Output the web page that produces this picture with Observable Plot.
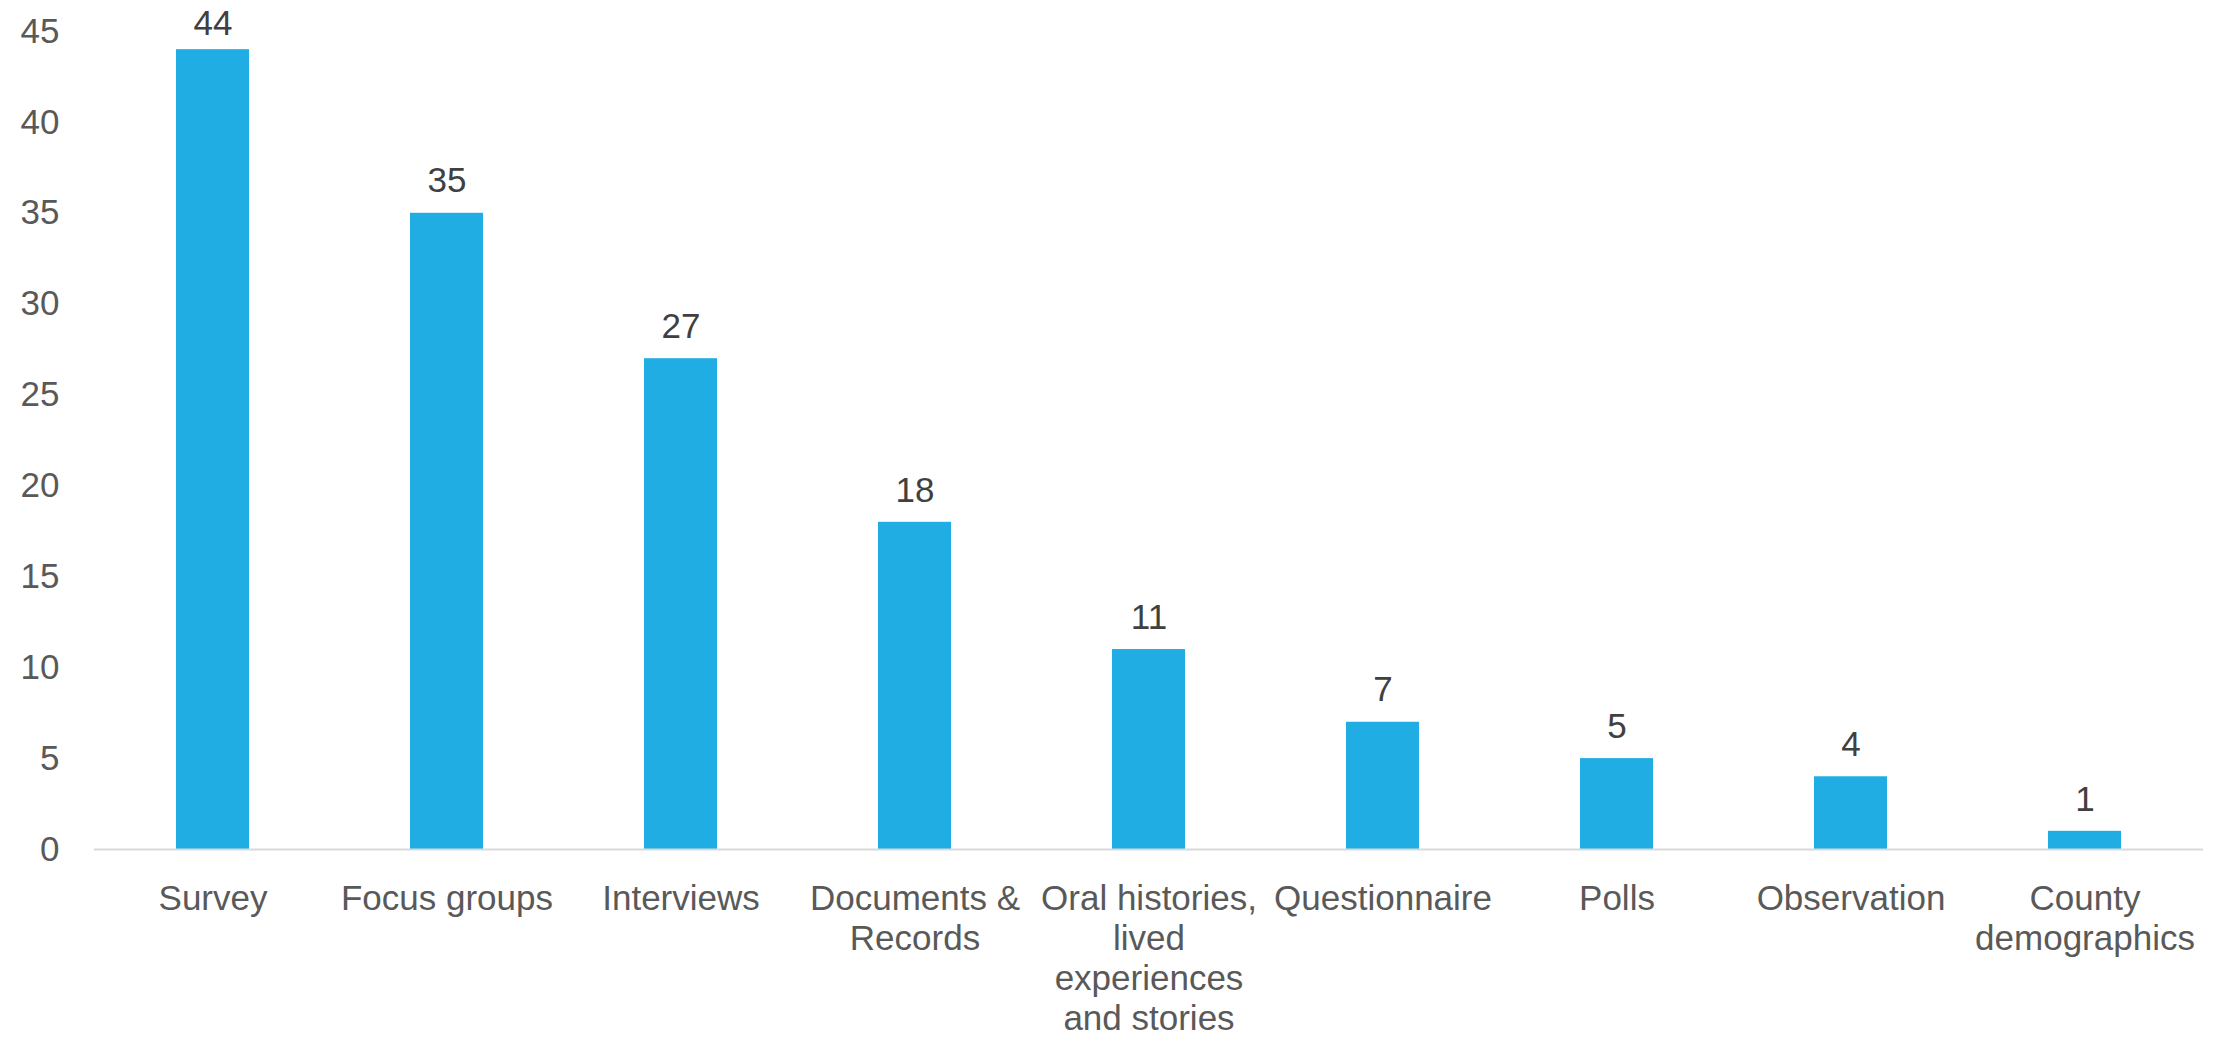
<!DOCTYPE html>
<html>
<head>
<meta charset="utf-8">
<script src="https://cdn.jsdelivr.net/npm/d3@7"></script>
<script src="https://cdn.jsdelivr.net/npm/@observablehq/plot@0.6"></script>
<style>
  html, body { margin: 0; padding: 0; background: #ffffff; }
</style>
</head>
<body>
<div id="chart"></div>
<script>
const categories = ["Survey", "Focus groups", "Interviews", "Documents & Records", "Oral histories, lived experiences and stories", "Questionnaire", "Polls", "Observation", "County demographics"];
const values = [44, 35, 27, 18, 11, 7, 5, 4, 1];
const tickLabels = ["Survey", "Focus groups", "Interviews", "Documents &\nRecords", "Oral histories,\nlived\nexperiences\nand stories", "Questionnaire", "Polls", "Observation", "County\ndemographics"];
const yTicks = [0, 5, 10, 15, 20, 25, 30, 35, 40, 45];

const data = categories.map((c, i) => ({category: c, value: values[i]}));
const labelMap = new Map(categories.map((c, i) => [c, tickLabels[i]]));
const maxValue = d3.max(values);

const chart = Plot.plot({
  width: 2218,
  height: 1041,
  marginTop: 31,
  marginBottom: 192,
  marginLeft: 94,
  marginRight: 15,
  style: {fontFamily: "'Liberation Sans', Arial, sans-serif", fontSize: "35px", background: "#ffffff", color: "#595959"},
  x: {domain: categories, paddingInner: 0.69, paddingOuter: 0.345, label: null},
  y: {domain: [0, 45], label: null},
  marks: [
    Plot.axisY({ticks: yTicks, tickSize: 0, tickPadding: 35, fill: "#595959", fontSize: 35, label: null}),
    Plot.axisX({tickSize: 0, tickPadding: 32, tickFormat: d => labelMap.get(d), lineHeight: 1.14, fill: "#595959", fontSize: 35, label: null}),
    Plot.barY(data, {x: "category", y: "value", fill: "#1FADE4"}),
    Plot.ruleY([0], {stroke: "#d9d9d9", strokeWidth: 2}),
    Plot.text(data.filter(d => d.value < maxValue), {x: "category", y: "value", text: d => String(d.value), dy: -32, fill: "#404040", fontSize: 35}),
    Plot.text(data.filter(d => d.value === maxValue), {x: "category", y: "value", text: d => String(d.value), dy: -26, fill: "#404040", fontSize: 35})
  ]
});
document.getElementById("chart").appendChild(chart);
</script>
</body>
</html>
